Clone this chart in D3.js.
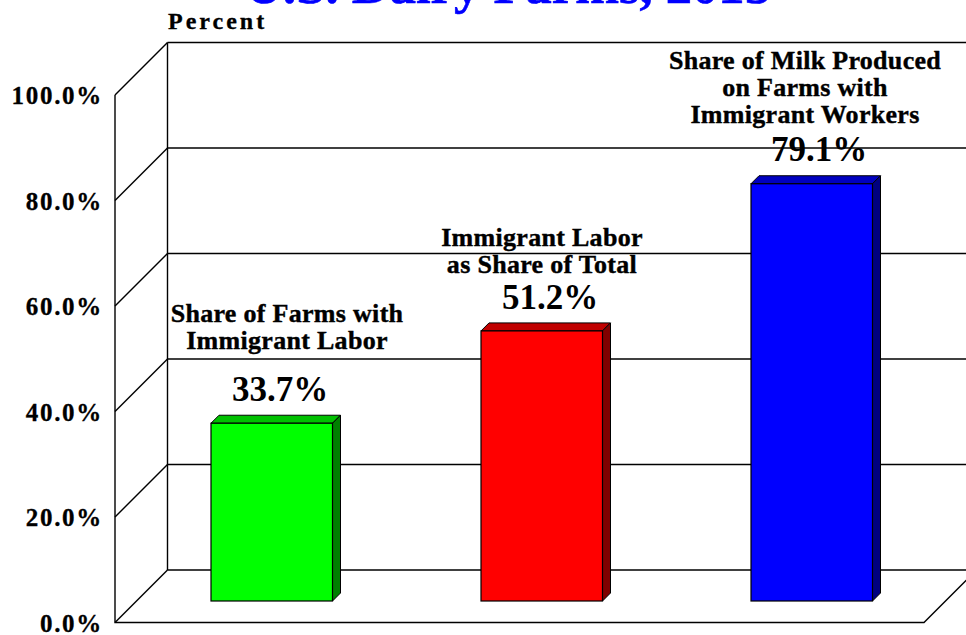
<!DOCTYPE html>
<html><head><meta charset="utf-8">
<script src="https://cdn.jsdelivr.net/npm/d3@7"></script>
<style>html,body{margin:0;padding:0;background:#fff;overflow:hidden}svg{display:block}text{font-family:"Liberation Serif",serif;font-weight:bold;fill:#000}</style>
</head><body><svg id="c" width="966" height="635"></svg>
<script>
const titleText = "U.S. Dairy Farms, 2015";
const axisTitle = "Percent";
const categories = ["farms","labor","milk"];
const values = [33.7, 51.2, 79.1];
const valueLabels = ["33.7%","51.2%","79.1%"];
const colors = ["#00ff00","#ff0000","#0000ff"];
const topColors = ["#00c000","#c00000","#0000c0"];
const sideColors = ["#008000","#800000","#000080"];
const captions = [["Share of Farms with","Immigrant Labor"],["Immigrant Labor","as Share of Total"],["Share of Milk Produced","on Farms with","Immigrant Workers"]];
const ticks = [0,20,40,60,80,100];
const tickLabels = ["0.0%","20.0%","40.0%","60.0%","80.0%","100.0%"];

const svg = d3.select("#c");
const y = d3.scaleLinear().domain([0,100]).range([622.5,95]);
const dx = 52.5, dy = -52.5;
const xEdge = d3.scaleLinear().domain([0,1]).range([115,924]);
const barX = d3.scaleOrdinal().domain(categories).range([211,481,751]);
const barW = 121.5, depth = 8, barLift = 21.5;
const line = d3.line();
const stroke = (s,w)=>s.attr("stroke","#000").attr("stroke-width",w||1.4).attr("fill","none");

svg.append("g").selectAll("line").data(ticks).join("line")
  .attr("x1",xEdge(0)+dx).attr("x2",966).attr("y1",d=>y(d)+dy).attr("y2",d=>y(d)+dy).call(stroke);
svg.append("g").selectAll("path").data(ticks).join("path")
  .attr("d",d=>line([[xEdge(0),y(d)],[xEdge(0)+dx,y(d)+dy]])).call(stroke);
svg.append("path").attr("d",line([[xEdge(0),y(100)],[xEdge(0),y(0)],[xEdge(1),y(0)],[xEdge(1)+dx,y(0)+dy]])).call(stroke);
svg.append("path").attr("d",line([[xEdge(0)+dx,y(100)+dy],[xEdge(0)+dx,y(0)+dy]])).call(stroke);

const g = svg.append("g").selectAll("g").data(values).join("g");
const base = y(0)-barLift;
const h = v => y(0)-y(v);
g.append("path").attr("fill",(d,i)=>topColors[i]).attr("stroke","#000").attr("stroke-width",1)
  .attr("d",(d,i)=>{const x=barX(categories[i]),t=base-h(d);return line([[x,t],[x+depth,t-depth],[x+barW+depth,t-depth],[x+barW,t]])+"Z";});
g.append("path").attr("fill",(d,i)=>sideColors[i]).attr("stroke","#000").attr("stroke-width",1)
  .attr("d",(d,i)=>{const x=barX(categories[i])+barW,t=base-h(d);return line([[x,t],[x+depth,t-depth],[x+depth,base-depth],[x,base]])+"Z";});
g.append("rect").attr("fill",(d,i)=>colors[i]).attr("stroke","#000").attr("stroke-width",1.2)
  .attr("x",(d,i)=>barX(categories[i])).attr("width",barW)
  .attr("y",d=>base-h(d)).attr("height",d=>h(d));

svg.append("g").selectAll("text").data(ticks).join("text")
  .attr("x",103).attr("y",d=>y(d)+9).attr("text-anchor","end")
  .attr("font-size",25).attr("letter-spacing",1.7)
  .attr("stroke","#000").attr("stroke-width",0.3)
  .text((d,i)=>tickLabels[i]);

svg.append("text").attr("x",508).attr("y",3).attr("text-anchor","middle")
  .attr("font-size",52.6).style("fill","#0000ff").attr("stroke","#0000ff").attr("stroke-width",0.6).text(titleText);
svg.append("text").attr("x",168).attr("y",29).attr("font-size",24).attr("letter-spacing",3)
  .attr("stroke","#000").attr("stroke-width",0.3).text(axisTitle);

const labelX = [280,550,819], labelY = [401,309,161];
svg.append("g").selectAll("text").data(valueLabels).join("text")
  .attr("x",(d,i)=>labelX[i]).attr("y",(d,i)=>labelY[i]).attr("text-anchor","middle")
  .attr("font-size",35).text(d=>d);

const capX = [287,542,805], capY = [322,246,69];
captions.forEach((c,i)=>{
  svg.append("g").selectAll("text").data(c).join("text")
    .attr("x",capX[i]).attr("y",(d,j)=>capY[i]+j*27).attr("text-anchor","middle")
    .attr("font-size",26).attr("letter-spacing",0.3)
    .attr("stroke","#000").attr("stroke-width",0.4).text(d=>d);
});
</script></body></html>
